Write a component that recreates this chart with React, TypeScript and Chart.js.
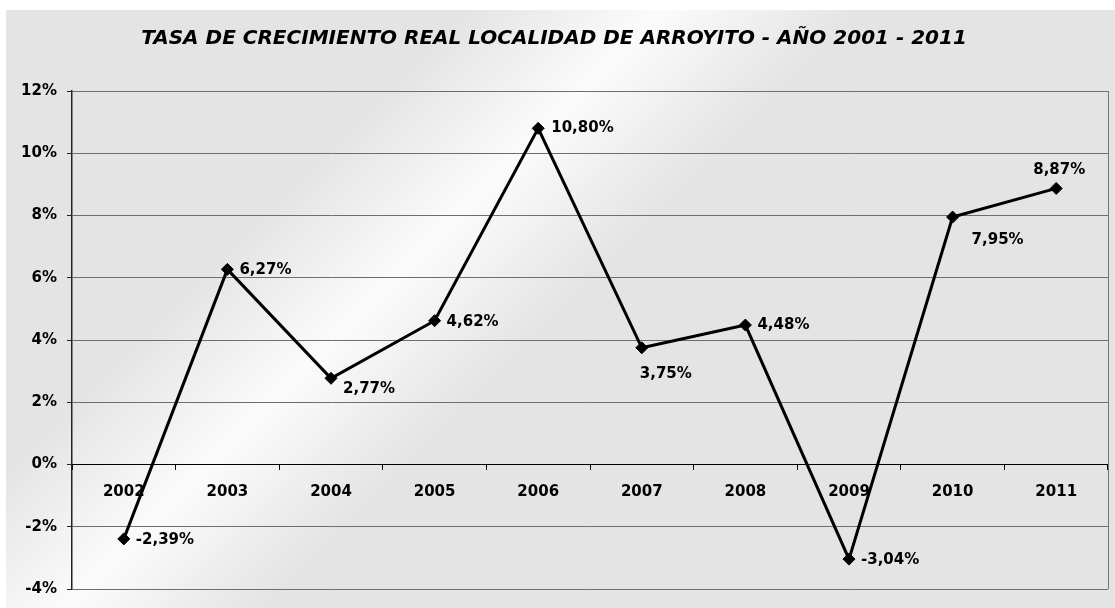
import React, { useEffect, useRef } from "react";
import { Chart, registerables } from "chart.js";

Chart.register(...registerables);

const years = ["2002", "2003", "2004", "2005", "2006", "2007", "2008", "2009", "2010", "2011"];
const growthRates = [-2.39, 6.27, 2.77, 4.62, 10.8, 3.75, 4.48, -3.04, 7.95, 8.87];
const yMin = -4;
const yMax = 12;
const yStep = 2;
const titleText = "TASA DE CRECIMIENTO REAL LOCALIDAD DE ARROYITO - AÑO 2001 - 2011";

// label placement relative to each point (style, not data)
const labelOffsets: [number, number][] = [
  [12, 1],
  [12, 1],
  [12, 11],
  [12, 1],
  [13, 0],
  [-2, 26],
  [12, 0],
  [12, 1],
  [19, 23],
  [-23, -18],
];

const FONT = '"DejaVu Sans", sans-serif';
const W = 1115;
const H = 608;

const fmt = (v: number) => v.toFixed(2).replace(".", ",") + "%";

const panelPlugin = {
  id: "panelBg",
  beforeDraw(chart: any) {
    const ctx = chart.ctx;
    ctx.save();
    ctx.fillStyle = "#ffffff";
    ctx.fillRect(0, 0, W, H);
    const x0 = 6, y0 = 10;
    const L = ((W - x0) + (H - y0)) / 2;
    const g = ctx.createLinearGradient(x0, y0, x0 + L, y0 + L);
    g.addColorStop(0, "#e4e4e4");
    g.addColorStop(0.27, "#e4e4e4");
    g.addColorStop(0.385, "#fbfbfb");
    g.addColorStop(0.5, "#e4e4e4");
    g.addColorStop(1, "#e4e4e4");
    ctx.fillStyle = g;
    ctx.fillRect(x0, y0, W - x0, H - y0);
    ctx.restore();
  },
  beforeDatasetsDraw(chart: any) {
    const { ctx, chartArea } = chart;
    ctx.save();
    ctx.strokeStyle = "#777777";
    ctx.lineWidth = 1;
    ctx.beginPath();
    ctx.moveTo(Math.round(chartArea.right) + 0.5, chartArea.top);
    ctx.lineTo(Math.round(chartArea.right) + 0.5, chartArea.bottom);
    ctx.stroke();
    ctx.restore();
  },
};

const labelPlugin = {
  id: "pointLabels",
  afterDatasetsDraw(chart: any) {
    const ctx = chart.ctx;
    const meta = chart.getDatasetMeta(0);
    ctx.save();
    ctx.font = `bold 15px ${FONT}`;
    ctx.fillStyle = "#000000";
    ctx.textAlign = "left";
    ctx.textBaseline = "middle";
    meta.data.forEach((pt: any, i: number) => {
      const [dx, dy] = labelOffsets[i];
      ctx.fillText(fmt(growthRates[i]), pt.x + dx, pt.y + dy);
    });
    ctx.restore();
  },
};

export default function App() {
  const ref = useRef<HTMLCanvasElement | null>(null);

  useEffect(() => {
    if (!ref.current) return;
    const chart = new Chart(ref.current, {
      type: "line",
      data: {
        labels: years,
        datasets: [
          {
            data: growthRates,
            borderColor: "#000000",
            backgroundColor: "#000000",
            borderWidth: 3,
            pointStyle: "rectRot",
            pointRadius: 6,
            pointBackgroundColor: "#000000",
            pointBorderColor: "#000000",
            pointBorderWidth: 1,
            tension: 0,
            fill: false,
          },
        ],
      },
      options: {
        responsive: false,
        animation: false,
        layout: { padding: { left: 0, right: 7, top: 0, bottom: 17 } },
        plugins: {
          legend: { display: false },
          tooltip: { enabled: false },
          title: {
            display: true,
            text: titleText,
            color: "#000000",
            font: { family: FONT, size: 20, weight: "bold", style: "italic" },
            padding: { top: 27, bottom: 40 },
          },
        },
        scales: {
          x: {
            type: "category",
            offset: true,
            position: { y: 0 } as any,
            grid: {
              offset: true,
              drawOnChartArea: false,
              drawTicks: true,
              tickLength: 5,
              color: "#000000",
            },
            border: { display: true, color: "#000000", width: 1 },
            ticks: {
              color: "#000000",
              font: { family: FONT, size: 15, weight: "bold" },
              padding: 14,
              maxRotation: 0,
              autoSkip: false,
            },
          },
          y: {
            min: yMin,
            max: yMax,
            afterFit: (scale: any) => {
              scale.width = 72;
            },
            grid: {
              color: (c: any) => (c.tick && c.tick.value === 0 ? "#000000" : "#6e6e6e"),
              tickColor: "#222222",
              tickLength: 5,
              lineWidth: 1,
            },
            border: { display: true, color: "#222222", width: 1.5 },
            ticks: {
              stepSize: yStep,
              color: "#000000",
              font: { family: FONT, size: 15, weight: "bold" },
              padding: 10,
              callback: (v: any) => `${v}%`,
            },
          },
        },
      },
      plugins: [panelPlugin, labelPlugin],
    });
    return () => chart.destroy();
  }, []);

  return (
    <div style={{ position: "absolute", left: 0, top: 0, width: W, height: H }}>
      <canvas ref={ref} width={W} height={H} style={{ display: "block" }} />
    </div>
  );
}
